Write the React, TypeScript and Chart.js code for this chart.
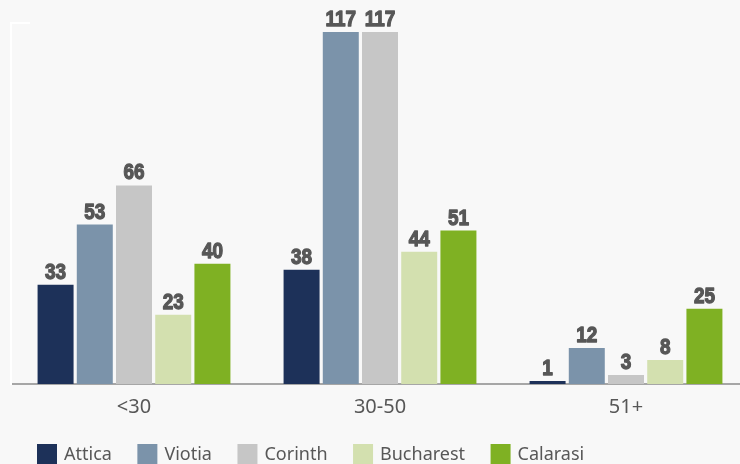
import React, { useEffect, useRef } from "react";
import { Chart, registerables } from "chart.js";

Chart.register(...registerables);

const categories = ["<30", "30-50", "51+"];
const seriesNames = ["Attica", "Viotia", "Corinth", "Bucharest", "Calarasi"];
const attica = [33, 38, 1];
const viotia = [53, 117, 12];
const corinth = [66, 117, 3];
const bucharest = [23, 44, 8];
const calarasi = [40, 51, 25];
const seriesColors = ["#1d3159", "#7b93aa", "#c6c6c6", "#d3e0af", "#7fb123"];
const yMin = 0;
const yMax = 120;

const TEXT_COLOR = "#575757";
const BG = "#f8f8f8";

const valueLabels = {
  id: "valueLabels",
  afterDatasetsDraw(chart: any) {
    const ctx = chart.ctx;
    ctx.save();
    ctx.fillStyle = TEXT_COLOR;
    ctx.strokeStyle = TEXT_COLOR;
    ctx.lineWidth = 1.3;
    ctx.lineJoin = "round";
    ctx.font = "bold 22px 'Liberation Sans', sans-serif";
    ctx.textAlign = "center";
    ctx.textBaseline = "alphabetic";
    chart.data.datasets.forEach((ds: any, i: number) => {
      const meta = chart.getDatasetMeta(i);
      meta.data.forEach((bar: any, j: number) => {
        const v = String(ds.data[j]);
        ctx.save();
        ctx.translate(bar.x, bar.y - 6);
        ctx.scale(0.86, 1);
        ctx.fillText(v, 0, 0);
        ctx.strokeText(v, 0, 0);
        ctx.restore();
      });
    });
    ctx.restore();
  },
};

const topTick = {
  id: "topTick",
  afterDraw(chart: any) {
    const ctx = chart.ctx;
    const area = chart.chartArea;
    const y = chart.scales.y.getPixelForValue(yMax);
    ctx.save();
    ctx.strokeStyle = "#ffffff";
    ctx.lineWidth = 2;
    ctx.beginPath();
    ctx.moveTo(area.left - 1, y);
    ctx.lineTo(area.left + 19, y);
    ctx.stroke();
    ctx.restore();
  },
};

const customLegend = {
  id: "customLegend",
  afterDraw(chart: any) {
    const ctx = chart.ctx;
    ctx.save();
    ctx.font = "18px 'Noto Sans', sans-serif";
    ctx.textBaseline = "middle";
    ctx.textAlign = "left";
    let x = 37;
    const boxTop = 444;
    const box = 20;
    chart.data.datasets.forEach((ds: any) => {
      ctx.fillStyle = ds.backgroundColor;
      ctx.fillRect(x, boxTop, box, box);
      ctx.fillStyle = TEXT_COLOR;
      const tx = x + box + 7;
      ctx.fillText(ds.label, tx, boxTop + box / 2 + 1);
      x = tx + ctx.measureText(ds.label).width + 25.5;
    });
    ctx.restore();
  },
};

export default function App() {
  const ref = useRef<HTMLCanvasElement>(null);
  useEffect(() => {
    if (!ref.current) return;
    const values = [attica, viotia, corinth, bucharest, calarasi];
    const chart = new Chart(ref.current, {
      type: "bar",
      data: {
        labels: categories,
        datasets: seriesNames.map((name, i) => ({
          label: name,
          data: values[i],
          backgroundColor: seriesColors[i],
          borderWidth: 0,
          categoryPercentage: 0.797,
          barPercentage: 0.918,
        })),
      },
      options: {
        responsive: false,
        animation: false,
        devicePixelRatio: 1,
        layout: { padding: { left: 11, right: 1, top: 23, bottom: 34 } },
        plugins: {
          legend: { display: false },
          tooltip: { enabled: false },
        },
        scales: {
          x: {
            grid: { display: false, drawTicks: false },
            border: { display: true, color: "#a6a6a6", width: 2 },
            ticks: {
              color: TEXT_COLOR,
              font: { family: "'Noto Sans', sans-serif", size: 20 },
              padding: 11,
            },
          },
          y: {
            min: yMin,
            max: yMax,
            grid: { display: false, drawTicks: false },
            border: { display: true, color: "#ffffff", width: 2 },
            ticks: { display: false },
          },
        },
      },
      plugins: [valueLabels, topTick, customLegend],
    });
    return () => chart.destroy();
  }, []);

  return (
    <div
      style={{
        position: "fixed",
        left: 0,
        top: 0,
        width: 740,
        height: 464,
        overflow: "hidden",
        background: BG,
      }}
    >
      <canvas ref={ref} width={750} height={464} style={{ display: "block" }} />
    </div>
  );
}
